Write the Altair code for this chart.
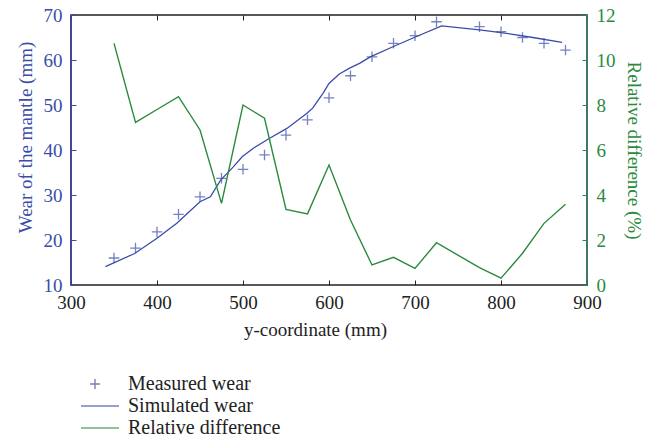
import altair as alt
import pandas as pd

# ---- data ----
meas_x = [350, 375, 400, 425, 450, 475, 500, 525, 550, 575, 600, 625, 650, 675, 700, 725, 775, 800, 825, 850, 875]
meas_y = [16.0, 18.2, 21.8, 25.7, 29.6, 33.7, 35.7, 38.9, 43.3, 46.7, 51.6, 56.5, 60.7, 63.7, 65.4, 68.5, 67.4, 66.3, 65.0, 63.7, 62.2]

sim_x = [340, 374, 400, 423, 450, 462, 474, 489, 499, 512, 531, 551, 574, 581, 593, 600, 612, 624, 636, 648, 675, 699, 731, 775, 800, 837, 871]
sim_y = [14.1, 17.0, 20.4, 23.7, 28.5, 29.6, 33.3, 36.3, 38.5, 40.4, 42.6, 44.8, 48.1, 49.3, 52.6, 54.8, 56.9, 58.2, 59.3, 60.7, 63.0, 65.0, 67.6, 66.7, 66.1, 65.0, 63.9]

rel_x = [350, 375, 400, 425, 450, 475, 500, 525, 550, 575, 600, 625, 650, 675, 700, 725, 775, 800, 825, 850, 875]
rel_y = [10.74, 7.23, 7.8, 8.37, 6.89, 3.63, 8.0, 7.41, 3.36, 3.16, 5.33, 2.89, 0.89, 1.23, 0.74, 1.88, 0.77, 0.30, 1.41, 2.74, 3.59]

x_ticks = [300, 400, 500, 600, 700, 800, 900]
left_ticks = [10, 20, 30, 40, 50, 60, 70]
right_ticks = [0, 2, 4, 6, 8, 10, 12]
series_names = ["Measured wear", "Simulated wear", "Relative difference"]

BLUE = "#3b4ca8"
GREEN = "#2b8a3e"
DARK = "#222222"
FONT = "Liberation Serif"
FS = 19
W, H = 516, 270

meas = pd.DataFrame({"x": meas_x, "wear": meas_y, "series": series_names[0]})
sim = pd.DataFrame({"x": sim_x, "wear": sim_y, "series": series_names[1]})
rel = pd.DataFrame({"x": rel_x, "rel": rel_y, "series": series_names[2]})
dummy = pd.DataFrame({"a": [0]})

color = alt.Color(
    "series:N",
    scale=alt.Scale(domain=series_names, range=[BLUE, BLUE, GREEN]),
    legend=alt.Legend(
        title=None, orient="none", legendX=18, legendY=358, direction="vertical",
        labelFont=FONT, labelFontSize=20, labelColor=DARK, padding=0, rowPadding=1,
        labelOffset=17,
        symbolType=alt.ExprRef(expr="datum.value == 'Measured wear' ? 'M-1,0H0M-0.5,-0.5V0.5' : 'M-1.9,0H1.9'"),
        symbolSize=400, symbolStrokeWidth=1.4, symbolFillColor="transparent",
    ),
)

x_bottom = alt.X(
    "x:Q", scale=alt.Scale(domain=[300, 900], nice=False, zero=False),
    axis=alt.Axis(orient="bottom", values=x_ticks, title="y-coordinate (mm)", offset=-5, tickSize=5,
                  domain=False, labelPadding=8, labelFlush=False, tickColor=DARK, labelColor=DARK,
                  labelFont=FONT, labelFontSize=FS, titleFont=FONT, titleFontSize=FS,
                  titleFontWeight="normal", titleColor=DARK, titlePadding=8, titleX=244,
                  grid=False, format="d"),
)
x_top = alt.X(
    "x:Q", scale=alt.Scale(domain=[300, 900], nice=False, zero=False),
    axis=alt.Axis(orient="top", values=x_ticks, title=None, labels=False, offset=-5, tickSize=5,
                  domain=False, tickColor=DARK, grid=False),
)
y_left = alt.Y(
    "wear:Q", scale=alt.Scale(domain=[10, 70], nice=False, zero=False),
    axis=alt.Axis(orient="left", values=left_ticks, title="Wear of the mantle (mm)", offset=-5, tickSize=5,
                  domain=False, labelPadding=9, labelFlush=False, tickColor=BLUE, labelColor=BLUE,
                  labelFont=FONT, labelFontSize=FS, titleFont=FONT, titleFontSize=FS,
                  titleFontWeight="normal", titleColor=BLUE, titlePadding=8, titleY=122, grid=False),
)
y_right = alt.Y(
    "rel:Q", scale=alt.Scale(domain=[0, 12], nice=False, zero=False),
    axis=alt.Axis(orient="right", values=right_ticks, title="Relative difference (%)", offset=-5, tickSize=5,
                  domain=False, labelPadding=9, labelFlush=False, tickColor=GREEN, labelColor=GREEN,
                  labelFont=FONT, labelFontSize=FS, titleFont=FONT, titleFontSize=FS,
                  titleFontWeight="normal", titleColor=GREEN, titlePadding=8, grid=False),
)

points = alt.Chart(meas).mark_point(
    shape="M-1,0H1M0,-1V1", size=110, filled=False, strokeWidth=1.3
).encode(x=x_bottom, y=y_left, color=color)

simline = alt.Chart(sim).mark_line(strokeWidth=1.3).encode(
    x=x_bottom, y=y_left, color=color, order="x:Q"
)

relline = alt.Chart(rel).mark_line(strokeWidth=1.4).encode(
    x=x_top, y=y_right, color=color, order="x:Q"
)

left_edge = alt.Chart(dummy).mark_rule(color=BLUE, strokeWidth=1.6).encode(
    x=alt.value(0), y=alt.value(0), y2=alt.value(H)
)
right_edge = alt.Chart(dummy).mark_rule(color="#3f8070", strokeWidth=1.6).encode(
    x=alt.value(W), y=alt.value(0), y2=alt.value(H)
)

chart = (
    alt.layer(alt.layer(points, simline), relline, left_edge, right_edge)
    .resolve_scale(y="independent")
    .resolve_axis(x="independent")
    .properties(width=W, height=H, padding={"left": 63, "top": 7, "right": 56, "bottom": 155},
                autosize=alt.AutoSizeParams(type="none"), background="white")
    .configure_view(stroke=DARK, strokeWidth=1.6)
)

chart.save("out.html", embed_options={"renderer": "svg", "actions": False})
